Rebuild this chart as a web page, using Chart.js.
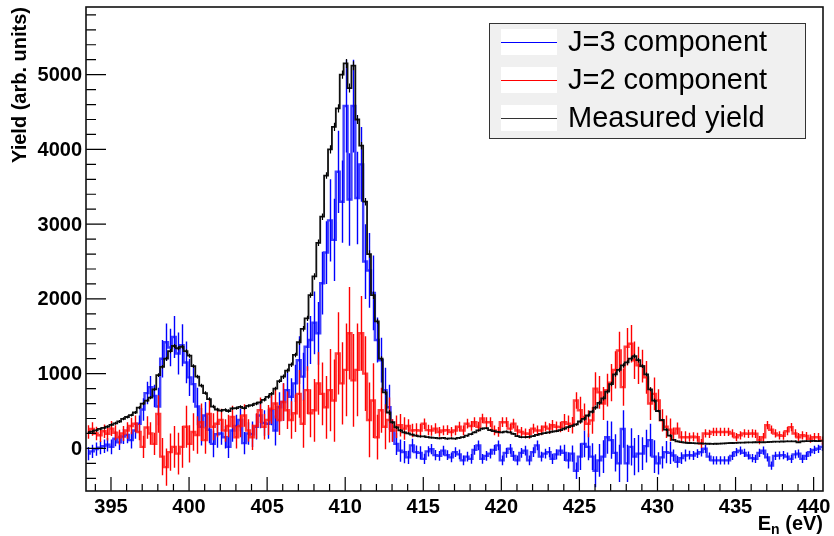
<!DOCTYPE html>
<html>
<head>
<meta charset="utf-8">
<script src="https://cdn.jsdelivr.net/npm/chart.js@4.4.1/dist/chart.umd.min.js"></script>
<style>
  html, body { margin: 0; padding: 0; background: #fff; }
  canvas { display: block; }
</style>
</head>
<body>
<canvas id="chart" width="834" height="536"></canvas>
<script>
// histogram binning (eV)
const binStart = 393.4;
const binWidth = 0.25;

// measured yield, black
const yieldMeasured = [
  210, 225, 240, 260, 275, 290, 315, 335, 360, 395,
  420, 445, 480, 545, 600, 640, 680, 790, 980, 1090,
  1200, 1300, 1370, 1340, 1360, 1300, 1240, 1100, 960, 840,
  740, 660, 560, 520, 505, 515, 500, 535, 540, 555,
  540, 570, 580, 600, 615, 650, 690, 730, 800, 900,
  960, 1040, 1120, 1250, 1420, 1600, 1740, 2050, 2300, 2750,
  3100, 3650, 4000, 4300, 4550, 5000, 5150, 4820, 5120, 4400,
  4050, 3300, 2600, 2050, 1700, 1200, 750, 480, 350, 280,
  240, 215, 200, 185, 170, 160, 160, 150, 145, 140,
  135, 140, 130, 135, 130, 140, 150, 170, 190, 215,
  240, 265, 270, 245, 230, 220, 215, 225, 215, 195,
  165, 150, 150, 155, 165, 180, 195, 205, 215, 225,
  230, 245, 265, 285, 300, 320, 360, 395, 440, 490,
  545, 610, 670, 760, 860, 990, 1050, 1110, 1150, 1200,
  1235, 1180, 1100, 990, 790, 640, 500, 380, 250, 170,
  115, 95, 85, 78, 72, 70, 68, 66, 64, 62,
  60, 62, 64, 66, 70, 72, 74, 76, 78, 80,
  80, 82, 84, 82, 85, 88, 90, 90, 92, 94,
  95, 94, 82, 95, 98, 96, 100, 98, 100
];

// J=3 component, blue
const yieldJ3 = [
  -70, -40, -10, 10, 30, 50, 20, 130, 80, 160,
  180, 110, 240, 330, 520, 740, 820, 700, 560, 1200,
  1420, 1350, 1490, 1270, 1380, 1150, 950, 860, 560, 290,
  440, 250, 60, 190, 200, 150, 20, 240, 300, 380,
  70, 200, 190, 290, 440, 340, 330, 510, 240, 550,
  620, 780, 690, 870, 1180, 960, 1360, 1450, 1680, 1540,
  2210, 2620, 3050, 2790, 3700, 3300, 4580, 3330, 4580, 3350,
  3800, 2500, 2380, 2080, 1450, 1180, 780, 550, 240, 60,
  -30, -50, -120, 40, -50, -60, -140, -40, -10, -90,
  -100, -30, -90, -120, -50, -80, -160, -110, -140, -20,
  40, -140, -100, -70, -20, 40, -160, -60, -5, -100,
  -160, -60, -30, -160, -50, 40, -110, -70, -50, -140,
  -80, -30, -60, -160, -70, -300, -110, 60, 20, -110,
  -300, -160, -110, 150, 110, -60, -200, 260, -200, 20,
  -110, -70, -70, 30, 110, -110, -200, -120, -50, -60,
  -95, -180, -130, -95, -90, -95, -70, -50, -5, -110,
  -160, -160, -160, -160, -160, -100, -50, -30, -60, -95,
  -130, -140, -60, -30, -120, -230, -100, -95, -90, -110,
  -140, -80, -70, -140, -100, -50, -20, -5, 20
];

// J=2 component, red
const yieldJ2 = [
  220, 260, 200, 175, 230, 195, 265, 210, 150, 200,
  240, 300, 330, 220, 20, 280, 200, 60, 460, -110,
  -250, -50, 20, -70, 20, 290, 60, 220, 180, 350,
  110, 460, 290, 330, 380, 240, 300, 420, 150, 300,
  440, 240, 150, 300, 510, 290, 380, 530, 600, 380,
  620, 510, 380, 470, 730, 330, 780, 470, 510, 870,
  730, 550, 780, 640, 1270, 870, 1050, 1540, 910, 1050,
  1540, 1000, 380, 640, 150, 510, 290, 380, 240, 290,
  310, 265, 300, 240, 245, 240, 330, 245, 240, 265,
  220, 240, 245, 220, 240, 290, 240, 330, 300, 350,
  290, 400, 350, 350, 240, 220, 350, 350, 265, 330,
  240, 220, 200, 195, 265, 240, 240, 290, 265, 310,
  290, 285, 350, 330, 310, 640, 510, 420, 330, 375,
  800, 750, 600, 780, 880, 1050, 1310, 820, 1360, 1400,
  1180, 1110, 1100, 950, 600, 730, 640, 375, 290, 250,
  200, 265, 150, 150, 150, 155, 150, 65, 200, 195,
  220, 220, 220, 220, 220, 200, 150, 175, 200, 195,
  200, 195, 110, 150, 310, 250, 200, 175, 170, 230,
  285, 200, 150, 175, 165, 130, 150, 150, 105
];

// error bar half-lengths, one value per 1 eV from 393 eV to 440 eV
const errComponent = [
  90, 90, 100, 110, 150, 250, 280, 250, 180, 150,
  150, 170, 200, 250, 320, 420, 550, 620, 500, 300,
  150, 90, 70, 65, 65, 65, 65, 65, 65, 65,
  70, 110, 180, 220, 250, 250, 220, 150, 80, 60,
  55, 55, 55, 55, 55, 55, 55, 55
];
const errMeasured = [
  18, 18, 20, 20, 22, 26, 28, 26, 24, 22,
  22, 24, 26, 30, 36, 44, 55, 60, 50, 34,
  20, 15, 14, 14, 14, 14, 14, 14, 14, 14,
  15, 18, 24, 28, 30, 30, 26, 18, 12, 10,
  10, 10, 10, 10, 10, 10, 10, 10
];

const xTickLabels = [395, 400, 405, 410, 415, 420, 425, 430, 435, 440];
const yTickLabels = [0, 1000, 2000, 3000, 4000, 5000];

const toPoints = values => values.map((v, i) => ({ x: binStart + binWidth * (i + 0.5), y: v }));
const errorsFor = (values, table) => values.map((v, i) => table[Math.floor(binStart + binWidth * (i + 0.5)) - 393]);

// vertical error bars for each bin
const errorBarPlugin = {
  id: 'errorBars',
  afterDatasetDraw(chart, args) {
    const ds = chart.data.datasets[args.index];
    if (!ds.errors) return;
    const { ctx, chartArea, scales } = chart;
    ctx.save();
    ctx.beginPath();
    ctx.rect(chartArea.left, chartArea.top, chartArea.width, chartArea.height);
    ctx.clip();
    ctx.strokeStyle = ds.errorColor;
    ctx.lineWidth = ds.errorWidth;
    ctx.beginPath();
    ds.data.forEach((p, i) => {
      const px = Math.round(scales.x.getPixelForValue(p.x)) + 0.5;
      ctx.moveTo(px, scales.y.getPixelForValue(p.y - ds.errors[i]));
      ctx.lineTo(px, scales.y.getPixelForValue(p.y + ds.errors[i]));
    });
    ctx.stroke();
    ctx.restore();
  }
};

// ROOT-like frame, inner ticks, labels, titles and legend
const framePlugin = {
  id: 'rootFrame',
  afterDraw(chart) {
    const { ctx, chartArea: a, scales } = chart;
    const sx = scales.x, sy = scales.y;
    ctx.save();

    // ticks
    ctx.strokeStyle = '#000';
    ctx.lineWidth = 1.2;
    ctx.beginPath();
    for (let v = Math.ceil(sx.min); v <= sx.max; v += 1) {
      const px = sx.getPixelForValue(v);
      const len = v % 5 === 0 ? 14 : 7;
      ctx.moveTo(px, a.bottom);
      ctx.lineTo(px, a.bottom - len);
    }
    for (let v = Math.ceil(sy.min / 200) * 200; v <= sy.max; v += 200) {
      const py = sy.getPixelForValue(v);
      const len = v % 1000 === 0 ? 20 : 10;
      ctx.moveTo(a.left, py);
      ctx.lineTo(a.left + len, py);
    }
    ctx.stroke();

    // frame
    ctx.lineWidth = 1.6;
    ctx.strokeStyle = '#111';
    ctx.strokeRect(a.left, a.top, a.width, a.height);

    // tick labels
    ctx.fillStyle = '#000';
    ctx.font = 'bold 20px "Liberation Sans", Arial, sans-serif';
    ctx.textAlign = 'center';
    ctx.textBaseline = 'alphabetic';
    xTickLabels.forEach(v => {
      ctx.fillText(String(v), sx.getPixelForValue(v), 513);
    });
    ctx.textAlign = 'right';
    ctx.textBaseline = 'middle';
    yTickLabels.forEach(v => {
      ctx.fillText(String(v), a.left - 4, sy.getPixelForValue(v) + 1);
    });

    // x title: E_n (eV)
    ctx.textBaseline = 'alphabetic';
    ctx.textAlign = 'left';
    const big = 'bold 20px "Liberation Sans", Arial, sans-serif';
    const small = 'bold 14px "Liberation Sans", Arial, sans-serif';
    ctx.font = big;
    const wE = ctx.measureText('E').width;
    const wRest = ctx.measureText(' (eV)').width;
    ctx.font = small;
    const wN = ctx.measureText('n').width;
    let tx = a.right - (wE + wN + wRest);
    ctx.font = big;
    ctx.fillText('E', tx, 530);
    ctx.font = small;
    ctx.fillText('n', tx + wE, 534);
    ctx.font = big;
    ctx.fillText(' (eV)', tx + wE + wN, 530);

    // y title
    ctx.save();
    ctx.translate(26, a.top);
    ctx.rotate(-Math.PI / 2);
    ctx.textAlign = 'right';
    ctx.textBaseline = 'alphabetic';
    ctx.fillText('Yield (arb. units)', 0, 0);
    ctx.restore();

    // legend
    const lx = 489, ly = 23, lw = 316, lh = 115;
    ctx.fillStyle = '#f0f0f0';
    ctx.fillRect(lx, ly, lw, lh);
    ctx.strokeStyle = '#333';
    ctx.lineWidth = 1;
    ctx.strokeRect(lx + 0.5, ly + 0.5, lw, lh);
    const entries = [chart.data.datasets[2], chart.data.datasets[1], chart.data.datasets[0]];
    ctx.font = '29px "Liberation Sans", Arial, sans-serif';
    ctx.textAlign = 'left';
    ctx.textBaseline = 'middle';
    entries.forEach((ds, i) => {
      const cy = ly + 19 + i * 38;
      ctx.fillStyle = '#fff';
      ctx.fillRect(501, cy - 13, 56, 26);
      ctx.strokeStyle = ds.legendColor;
      ctx.lineWidth = 1.2;
      ctx.beginPath();
      ctx.moveTo(501, cy + 0.5);
      ctx.lineTo(557, cy + 0.5);
      ctx.stroke();
      ctx.fillStyle = '#000';
      ctx.fillText(ds.label, 568, cy + 1);
    });

    ctx.restore();
  }
};

document.addEventListener('DOMContentLoaded', function() {
  const ctx = document.getElementById('chart').getContext('2d');

  const datasets = [
    {
      label: 'Measured yield',
      data: toPoints(yieldMeasured),
      errors: errorsFor(yieldMeasured, errMeasured),
      borderColor: '#111',
      borderWidth: 1.8,
      errorColor: '#000',
      errorWidth: 1.2,
      legendColor: '#333',
      order: 0
    },
    {
      label: 'J=2 component',
      data: toPoints(yieldJ2),
      errors: errorsFor(yieldJ2, errComponent),
      borderColor: 'rgba(255,30,30,0.85)',
      borderWidth: 2.4,
      errorColor: '#ff0000',
      errorWidth: 1.4,
      legendColor: '#ff0000',
      order: 1
    },
    {
      label: 'J=3 component',
      data: toPoints(yieldJ3),
      errors: errorsFor(yieldJ3, errComponent),
      borderColor: 'rgba(30,30,255,0.85)',
      borderWidth: 2.4,
      errorColor: '#0000ff',
      errorWidth: 1.4,
      legendColor: '#0000ff',
      order: 2
    }
  ];
  datasets.forEach(ds => {
    ds.stepped = 'middle';
    ds.pointRadius = 0;
    ds.fill = false;
    ds.tension = 0;
  });

  new Chart(ctx, {
    type: 'line',
    data: { datasets },
    options: {
      responsive: false,
      animation: false,
      devicePixelRatio: 1,
      layout: { padding: { left: 86, right: 11, top: 7, bottom: 45 } },
      scales: {
        x: { type: 'linear', min: 393.4, max: 440.6, display: false },
        y: { type: 'linear', min: -570, max: 5905, display: false }
      },
      plugins: {
        legend: { display: false },
        tooltip: { enabled: false }
      }
    },
    plugins: [errorBarPlugin, framePlugin]
  });
});
</script>
</body>
</html>
